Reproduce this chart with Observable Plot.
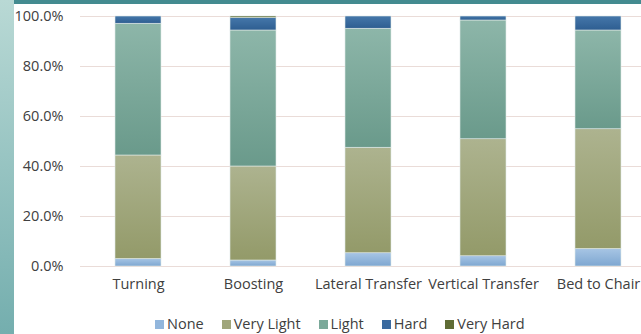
<!DOCTYPE html>
<html>
<head>
<meta charset="utf-8">
<script src="https://cdn.jsdelivr.net/npm/d3@7"></script>
<script src="https://cdn.jsdelivr.net/npm/@observablehq/plot@0.6"></script>
<style>
  html, body { margin: 0; padding: 0; background: #fff; overflow: hidden; }
  body { width: 641px; height: 334px; position: relative; font-family: "Open Sans", sans-serif; }
  #strip { position: absolute; left: 0; top: 0; width: 14px; height: 334px;
           background: linear-gradient(to bottom, #b9d9d5, #74aeae); z-index: 2; }
  #topbar { position: absolute; left: 14px; top: 0; width: 627px; height: 4px; background: #438b90; z-index: 2; }
  #chart { position: absolute; left: 0; top: 0; }
  #chart svg { max-width: none; }
  #legend { position: absolute; left: 155px; top: 314px; display: flex; font-size: 14.5px; line-height: 20px; color: #404040; white-space: nowrap; }
  #legend .item { display: flex; align-items: center; margin-right: 18px; }
  #legend .sw { width: 9px; height: 9px; margin-right: 3px; }
</style>
</head>
<body>
<div id="strip"></div>
<div id="topbar"></div>
<div id="chart"></div>
<div id="legend"></div>
<script>
const tasks = ["Turning", "Boosting", "Lateral Transfer", "Vertical Transfer", "Bed to Chair"];
const levels = ["None", "Very Light", "Light", "Hard", "Very Hard"];
const none      = [3.0, 2.4, 5.3, 4.1, 7.0];
const veryLight = [41.4, 37.6, 42.2, 46.8, 47.9];
const light     = [52.7, 54.4, 47.6, 47.5, 39.5];
const hard      = [2.9, 5.0, 4.9, 1.6, 5.6];
const veryHard  = [0.0, 0.6, 0.0, 0.0, 0.0];
const yTicks = [0, 20, 40, 60, 80, 100];

const series = [none, veryLight, light, hard, veryHard];
const data = [];
tasks.forEach((t, i) => levels.forEach((l, j) => data.push({task: t, level: l, value: series[j][i]})));

const grads = {
  "None":       ["#a7c5e4", "#7ea7d1", "#92b6dc"],
  "Very Light": ["#adb38f", "#939a69", "#a0a67b"],
  "Light":      ["#8db6a9", "#6a9a8b", "#7ba99a"],
  "Hard":       ["#4577aa", "#2e5e91", "#3a6a9f"],
  "Very Hard":  ["#6b7840", "#56632c", "#5f6c35"]
};
const gid = l => "g" + l.replace(/\s/g, "");

const chart = Plot.plot({
  width: 657,
  height: 300,
  marginLeft: 80,
  marginRight: 0,
  marginTop: 16,
  marginBottom: 34,
  style: {fontFamily: "'Open Sans', sans-serif", fontSize: "14.5px", color: "#404040", background: "transparent"},
  x: {domain: tasks, range: [80, 657], paddingInner: 0.6, paddingOuter: 0.3, label: null, tickSize: 0, tickPadding: 12},
  y: {domain: [0, 100], ticks: yTicks, tickFormat: d => d.toFixed(1) + "%", label: null, tickSize: 0, tickPadding: 17},
  color: {domain: levels, range: levels.map(l => `url(#${gid(l)})`)},
  marks: [
    Plot.ruleY(yTicks, {stroke: "#eadcd8", strokeWidth: 1}),
    Plot.barY(data, {x: "task", y: "value", fill: "level", order: levels, stroke: "#dfe9e8", strokeWidth: 0.6, inset: 0})
  ]
});

const ns = "http://www.w3.org/2000/svg";
const defs = document.createElementNS(ns, "defs");
levels.forEach(l => {
  const g = document.createElementNS(ns, "linearGradient");
  g.setAttribute("id", gid(l));
  g.setAttribute("x1", "0"); g.setAttribute("y1", "0"); g.setAttribute("x2", "0"); g.setAttribute("y2", "1");
  [[0, grads[l][0]], [1, grads[l][1]]].forEach(([o, c]) => {
    const s = document.createElementNS(ns, "stop");
    s.setAttribute("offset", o); s.setAttribute("stop-color", c);
    g.appendChild(s);
  });
  defs.appendChild(g);
});
chart.insertBefore(defs, chart.firstChild);
document.getElementById("chart").appendChild(chart);

const legend = document.getElementById("legend");
levels.forEach(l => {
  const it = document.createElement("div");
  it.className = "item";
  const sw = document.createElement("div");
  sw.className = "sw";
  sw.style.background = grads[l][2];
  const tx = document.createElement("span");
  tx.textContent = l;
  it.appendChild(sw); it.appendChild(tx);
  legend.appendChild(it);
});
</script>
</body>
</html>
